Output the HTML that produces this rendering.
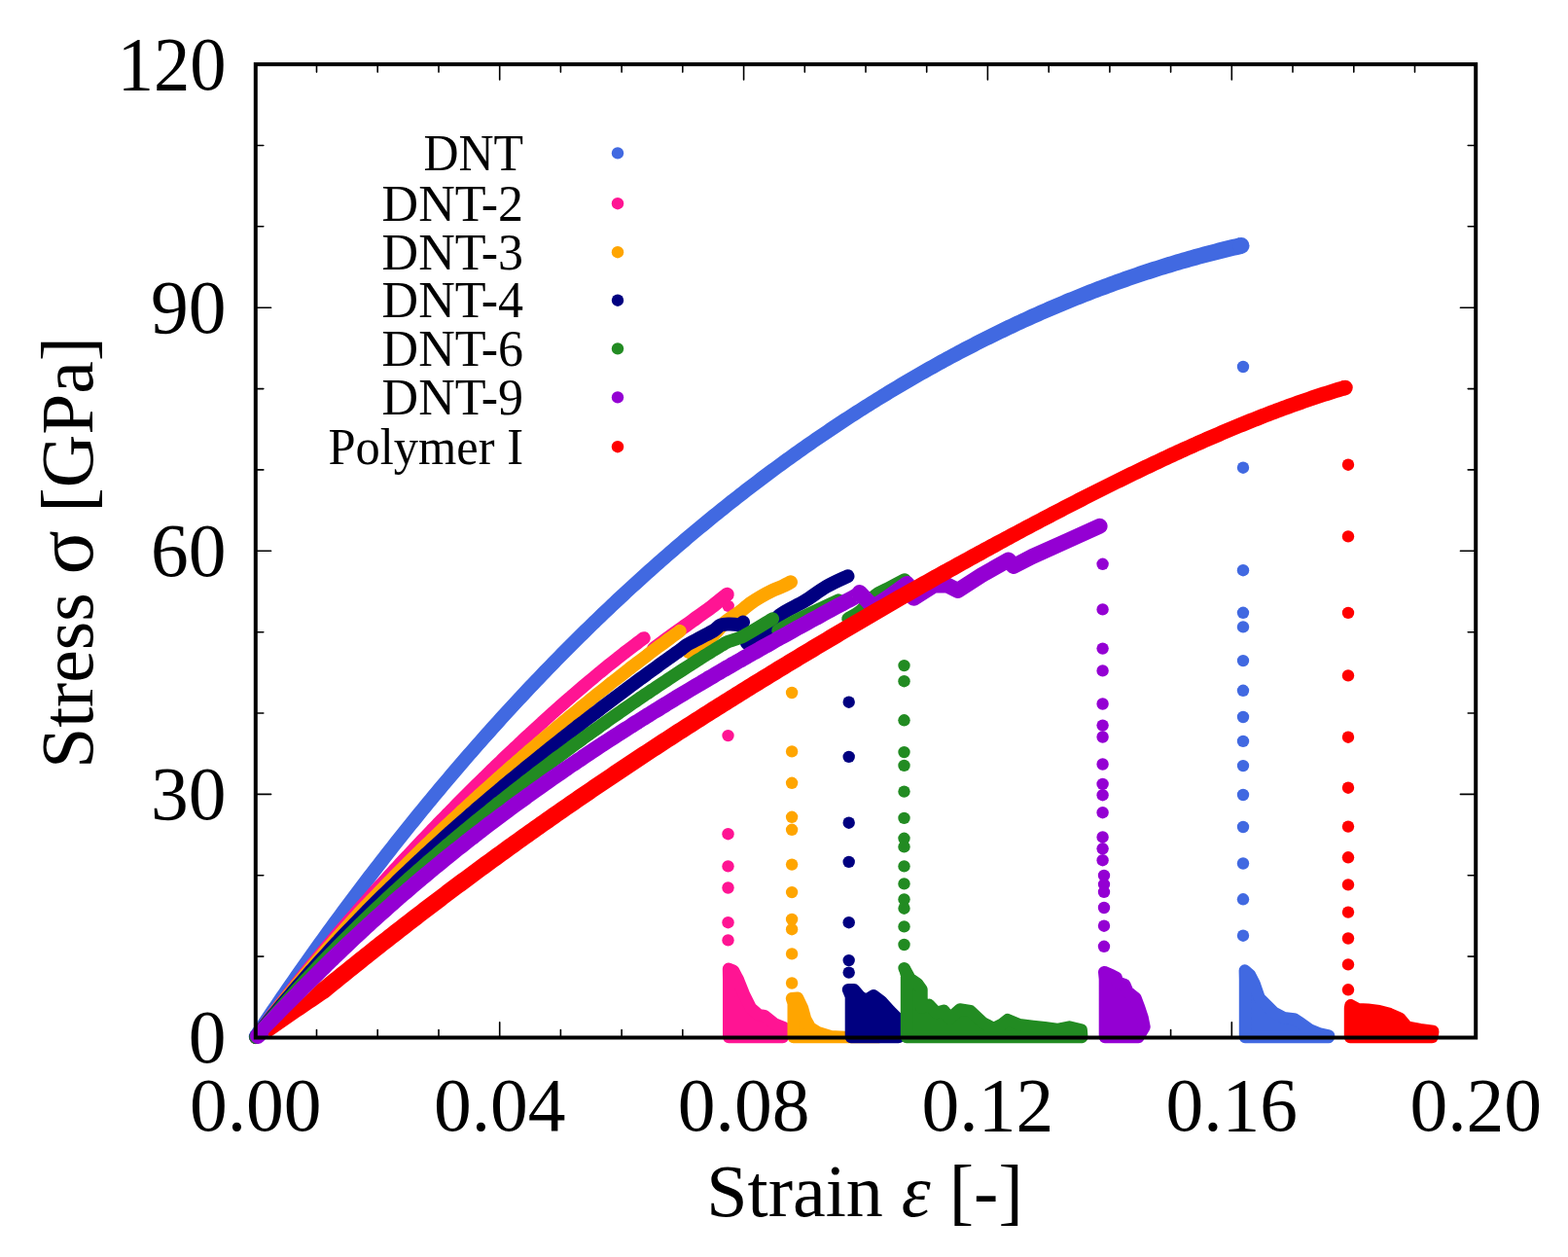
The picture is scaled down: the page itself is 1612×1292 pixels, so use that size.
<!DOCTYPE html>
<html><head><meta charset="utf-8"><style>
html,body{margin:0;padding:0;background:#fff;}
svg{display:block;}
text{font-family:"Liberation Serif","Times New Roman",serif;}
</style></head><body>
<svg width="1612" height="1292" viewBox="0 0 1612 1292">
<rect width="1612" height="1292" fill="#fff"/>
<g font-size="76" fill="#000">
<text x="538" y="174.7" text-anchor="end" font-size="52" textLength="102.6" lengthAdjust="spacingAndGlyphs">DNT</text><circle cx="635" cy="157.4" r="6.2" fill="#4169e1"/><text x="538" y="226.5" text-anchor="end" font-size="52">DNT-2</text><circle cx="635" cy="209.2" r="6.2" fill="#ff1493"/><text x="538" y="276.5" text-anchor="end" font-size="52">DNT-3</text><circle cx="635" cy="259.2" r="6.2" fill="#ffa500"/><text x="538" y="326.0" text-anchor="end" font-size="52">DNT-4</text><circle cx="635" cy="308.7" r="6.2" fill="#000080"/><text x="538" y="375.7" text-anchor="end" font-size="52">DNT-6</text><circle cx="635" cy="358.4" r="6.2" fill="#228b22"/><text x="538" y="425.7" text-anchor="end" font-size="52">DNT-9</text><circle cx="635" cy="408.4" r="6.2" fill="#9400d3"/><text x="538" y="476.5" text-anchor="end" font-size="52" textLength="200.5" lengthAdjust="spacingAndGlyphs">Polymer I</text><circle cx="635" cy="459.2" r="6.2" fill="#ff0000"/>
</g>
<path d="M325.5 1066.5v-8M325.5 66.1v8M388.2 1066.5v-8M388.2 66.1v8M451.0 1066.5v-8M451.0 66.1v8M513.7 1066.5v-15.8M513.7 66.1v15.8M576.4 1066.5v-8M576.4 66.1v8M639.1 1066.5v-8M639.1 66.1v8M701.8 1066.5v-8M701.8 66.1v8M764.6 1066.5v-15.8M764.6 66.1v15.8M827.3 1066.5v-8M827.3 66.1v8M890.0 1066.5v-8M890.0 66.1v8M952.7 1066.5v-8M952.7 66.1v8M1015.4 1066.5v-15.8M1015.4 66.1v15.8M1078.2 1066.5v-8M1078.2 66.1v8M1140.9 1066.5v-8M1140.9 66.1v8M1203.6 1066.5v-8M1203.6 66.1v8M1266.3 1066.5v-15.8M1266.3 66.1v15.8M1329.0 1066.5v-8M1329.0 66.1v8M1391.8 1066.5v-8M1391.8 66.1v8M1454.5 1066.5v-8M1454.5 66.1v8M262.8 983.1h8M1517.2 983.1h-8M262.8 899.8h8M1517.2 899.8h-8M262.8 816.4h15.8M1517.2 816.4h-15.8M262.8 733.0h8M1517.2 733.0h-8M262.8 649.7h8M1517.2 649.7h-8M262.8 566.3h15.8M1517.2 566.3h-15.8M262.8 482.9h8M1517.2 482.9h-8M262.8 399.6h8M1517.2 399.6h-8M262.8 316.2h15.8M1517.2 316.2h-15.8M262.8 232.8h8M1517.2 232.8h-8M262.8 149.5h8M1517.2 149.5h-8" stroke="#000" stroke-width="1.6" stroke-linecap="round" fill="none"/>
<g><path d="M269.04 1069.48 L272.03 1064.97 L275.03 1060.48 L278.02 1056.01 L281.01 1051.55 L284.01 1047.12 L287.00 1042.69 L289.99 1038.29 L292.99 1033.90 L295.98 1029.52 L298.97 1025.16 L301.97 1020.82 L304.96 1016.49 L307.95 1012.18 L310.95 1007.88 L313.94 1003.60 L316.93 999.34 L319.92 995.09 L322.92 990.85 L325.91 986.63 L328.90 982.43 L331.90 978.24 L334.89 974.07 L337.88 969.91 L340.87 965.77 L343.87 961.64 L346.86 957.53 L349.85 953.43 L352.84 949.35 L355.84 945.28 L358.83 941.23 L361.82 937.19 L364.81 933.17 L367.81 929.17 L370.80 925.17 L373.79 921.20 L376.78 917.23 L379.77 913.28 L382.77 909.35 L385.76 905.43 L388.75 901.53 L391.74 897.64 L394.73 893.76 L397.73 889.90 L400.72 886.06 L403.71 882.22 L406.70 878.41 L409.69 874.60 L412.69 870.81 L415.68 867.04 L418.67 863.28 L421.66 859.53 L424.65 855.80 L427.64 852.08 L430.64 848.38 L433.63 844.69 L436.62 841.01 L439.61 837.35 L442.60 833.70 L445.59 830.07 L448.58 826.45 L451.58 822.84 L454.57 819.25 L457.56 815.67 L460.55 812.10 L463.54 808.55 L466.53 805.01 L469.52 801.49 L472.51 797.98 L475.51 794.48 L478.50 791.00 L481.49 787.53 L484.48 784.07 L487.47 780.62 L490.46 777.19 L493.45 773.78 L496.44 770.37 L499.43 766.98 L502.42 763.60 L505.41 760.24 L508.40 756.89 L511.40 753.55 L514.39 750.23 L517.38 746.91 L520.37 743.61 L523.36 740.33 L526.35 737.06 L529.34 733.80 L532.33 730.55 L535.32 727.31 L538.31 724.09 L541.30 720.88 L544.29 717.69 L547.28 714.50 L550.27 711.33 L553.26 708.18 L556.25 705.03 L559.24 701.90 L562.23 698.78 L565.22 695.67 L568.21 692.57 L571.20 689.49 L574.19 686.42 L577.18 683.36 L580.17 680.32 L583.16 677.28 L586.15 674.26 L589.14 671.25 L592.13 668.26 L595.12 665.27 L598.11 662.30 L601.10 659.34 L604.09 656.39 L607.07 653.46 L610.06 650.53 L613.05 647.62 L616.04 644.72 L619.03 641.84 L622.02 638.96 L625.01 636.10 L628.00 633.25 L630.99 630.41 L633.98 627.58 L636.97 624.76 L639.96 621.96 L642.94 619.16 L645.93 616.38 L648.92 613.61 L651.91 610.86 L654.90 608.11 L657.89 605.38 L660.88 602.65 L663.87 599.94 L666.85 597.24 L669.84 594.56 L672.83 591.88 L675.82 589.21 L678.81 586.56 L681.80 583.92 L684.78 581.29 L687.77 578.67 L690.76 576.06 L693.75 573.46 L696.74 570.88 L699.73 568.30 L702.71 565.74 L705.70 563.19 L708.69 560.65 L711.68 558.12 L714.67 555.60 L717.65 553.09 L720.64 550.60 L723.63 548.11 L726.62 545.64 L729.61 543.18 L732.59 540.72 L735.58 538.28 L738.57 535.85 L741.56 533.44 L744.54 531.03 L747.53 528.63 L750.52 526.24 L753.51 523.87 L756.49 521.50 L759.48 519.15 L762.47 516.81 L765.46 514.47 L768.44 512.15 L771.43 509.84 L774.42 507.54 L777.40 505.25 L780.39 502.97 L783.38 500.71 L786.36 498.45 L789.35 496.20 L792.34 493.97 L795.33 491.74 L798.31 489.52 L801.30 487.32 L804.29 485.12 L807.27 482.94 L810.26 480.77 L813.25 478.60 L816.23 476.45 L819.22 474.31 L822.21 472.18 L825.19 470.06 L828.18 467.95 L831.16 465.84 L834.15 463.75 L837.14 461.67 L840.12 459.60 L843.11 457.54 L846.10 455.50 L849.08 453.46 L852.07 451.43 L855.05 449.41 L858.04 447.40 L861.03 445.40 L864.01 443.41 L867.00 441.43 L869.98 439.47 L872.97 437.51 L875.95 435.56 L878.94 433.62 L881.93 431.69 L884.91 429.78 L887.90 427.87 L890.88 425.97 L893.87 424.08 L896.85 422.20 L899.84 420.34 L902.83 418.47 L905.82 416.62 L908.82 414.78 L911.81 412.96 L914.80 411.14 L917.79 409.33 L920.78 407.53 L923.77 405.74 L926.76 403.96 L929.75 402.19 L932.74 400.44 L935.73 398.69 L938.72 396.95 L941.70 395.22 L944.69 393.50 L947.68 391.79 L950.67 390.09 L953.66 388.40 L956.65 386.71 L959.64 385.04 L962.63 383.38 L965.62 381.73 L968.61 380.09 L971.60 378.45 L974.58 376.83 L977.57 375.22 L980.56 373.61 L983.55 372.02 L986.54 370.43 L989.53 368.86 L992.51 367.29 L995.50 365.74 L998.49 364.19 L1001.48 362.65 L1004.46 361.13 L1007.45 359.61 L1010.44 358.10 L1013.43 356.60 L1016.41 355.11 L1019.40 353.63 L1022.39 352.16 L1025.38 350.70 L1028.36 349.25 L1031.35 347.81 L1034.34 346.38 L1037.32 344.95 L1040.31 343.54 L1043.30 342.13 L1046.28 340.74 L1049.27 339.35 L1052.25 337.98 L1055.24 336.61 L1058.23 335.25 L1061.21 333.91 L1064.20 332.57 L1067.18 331.24 L1070.17 329.92 L1073.15 328.61 L1076.14 327.31 L1079.12 326.01 L1082.11 324.73 L1085.09 323.46 L1088.08 322.19 L1091.06 320.94 L1094.05 319.69 L1097.03 318.46 L1100.02 317.23 L1103.00 316.02 L1105.99 314.81 L1108.97 313.61 L1111.95 312.42 L1114.94 311.24 L1117.92 310.07 L1120.91 308.91 L1123.89 307.75 L1126.87 306.61 L1129.86 305.48 L1132.84 304.35 L1135.82 303.24 L1138.81 302.13 L1141.79 301.03 L1144.77 299.95 L1147.76 298.87 L1150.74 297.80 L1153.72 296.74 L1156.70 295.69 L1159.69 294.65 L1162.67 293.61 L1165.65 292.59 L1168.63 291.58 L1171.61 290.57 L1174.60 289.58 L1177.58 288.59 L1180.56 287.62 L1183.54 286.65 L1186.52 285.69 L1189.50 284.74 L1192.48 283.80 L1195.46 282.87 L1198.45 281.95 L1201.43 281.04 L1204.41 280.13 L1207.39 279.24 L1210.37 278.36 L1213.35 277.48 L1216.33 276.62 L1219.31 275.76 L1222.29 274.91 L1225.27 274.07 L1228.25 273.24 L1231.23 272.42 L1234.21 271.61 L1237.19 270.81 L1240.17 270.02 L1243.14 269.24 L1246.12 268.46 L1249.10 267.70 L1252.08 266.95 L1255.06 266.20 L1258.04 265.46 L1261.02 264.74 L1264.00 264.02 L1266.97 263.31 L1269.95 262.61 L1272.93 261.92 L1275.91 261.24 L1277.90 260.79 L1274.10 244.22 L1272.09 244.69 L1269.07 245.40 L1266.05 246.12 L1263.03 246.85 L1260.00 247.59 L1256.98 248.34 L1253.96 249.10 L1250.94 249.86 L1247.92 250.64 L1244.90 251.43 L1241.88 252.22 L1238.86 253.03 L1235.83 253.84 L1232.81 254.67 L1229.79 255.50 L1226.77 256.34 L1223.75 257.19 L1220.73 258.06 L1217.71 258.93 L1214.69 259.81 L1211.67 260.69 L1208.65 261.59 L1205.63 262.50 L1202.61 263.42 L1199.59 264.34 L1196.57 265.28 L1193.55 266.22 L1190.54 267.18 L1187.52 268.14 L1184.50 269.11 L1181.48 270.10 L1178.46 271.09 L1175.44 272.09 L1172.42 273.10 L1169.40 274.12 L1166.39 275.15 L1163.37 276.18 L1160.35 277.23 L1157.33 278.29 L1154.31 279.35 L1151.30 280.43 L1148.28 281.51 L1145.26 282.61 L1142.24 283.71 L1139.23 284.82 L1136.21 285.94 L1133.19 287.07 L1130.18 288.21 L1127.16 289.36 L1124.14 290.52 L1121.13 291.69 L1118.11 292.87 L1115.09 294.05 L1112.08 295.25 L1109.06 296.45 L1106.05 297.67 L1103.03 298.89 L1100.01 300.13 L1097.00 301.37 L1093.98 302.62 L1090.97 303.88 L1087.95 305.15 L1084.94 306.43 L1081.92 307.72 L1078.91 309.02 L1075.89 310.33 L1072.88 311.64 L1069.86 312.97 L1066.85 314.31 L1063.83 315.65 L1060.82 317.01 L1057.80 318.37 L1054.79 319.74 L1051.77 321.13 L1048.76 322.52 L1045.75 323.92 L1042.73 325.33 L1039.72 326.75 L1036.70 328.18 L1033.69 329.62 L1030.68 331.07 L1027.66 332.53 L1024.65 334.00 L1021.64 335.47 L1018.62 336.96 L1015.61 338.45 L1012.60 339.96 L1009.59 341.48 L1006.57 343.00 L1003.56 344.53 L1000.55 346.08 L997.54 347.63 L994.52 349.19 L991.51 350.76 L988.50 352.35 L985.49 353.94 L982.47 355.54 L979.46 357.15 L976.45 358.77 L973.44 360.40 L970.43 362.04 L967.42 363.69 L964.40 365.34 L961.39 367.01 L958.38 368.69 L955.37 370.38 L952.36 372.07 L949.35 373.78 L946.34 375.50 L943.33 377.22 L940.32 378.96 L937.31 380.70 L934.30 382.46 L931.28 384.23 L928.27 386.00 L925.26 387.78 L922.25 389.58 L919.24 391.38 L916.23 393.20 L913.22 395.02 L910.21 396.85 L907.20 398.70 L904.19 400.55 L901.18 402.41 L898.18 404.29 L895.17 406.16 L892.16 408.03 L889.15 409.92 L886.13 411.82 L883.12 413.72 L880.10 415.64 L877.09 417.57 L874.07 419.50 L871.06 421.45 L868.05 423.41 L865.03 425.37 L862.02 427.35 L859.00 429.34 L855.99 431.33 L852.97 433.34 L849.96 435.36 L846.95 437.39 L843.93 439.42 L840.92 441.47 L837.90 443.53 L834.89 445.60 L831.88 447.68 L828.86 449.77 L825.85 451.87 L822.84 453.98 L819.82 456.10 L816.81 458.23 L813.79 460.37 L810.78 462.52 L807.77 464.68 L804.75 466.85 L801.74 469.03 L798.73 471.23 L795.71 473.43 L792.70 475.64 L789.69 477.87 L786.67 480.10 L783.66 482.35 L780.65 484.60 L777.64 486.87 L774.62 489.15 L771.61 491.44 L768.60 493.73 L765.58 496.04 L762.57 498.36 L759.56 500.69 L756.54 503.04 L753.53 505.39 L750.52 507.75 L747.51 510.12 L744.49 512.51 L741.48 514.90 L738.47 517.31 L735.46 519.73 L732.44 522.16 L729.43 524.59 L726.42 527.04 L723.41 529.51 L720.39 531.98 L717.38 534.46 L714.37 536.95 L711.36 539.46 L708.35 541.98 L705.33 544.50 L702.32 547.04 L699.31 549.59 L696.30 552.15 L693.29 554.72 L690.27 557.31 L687.26 559.90 L684.25 562.51 L681.24 565.13 L678.23 567.75 L675.22 570.39 L672.20 573.04 L669.19 575.71 L666.18 578.38 L663.17 581.07 L660.16 583.76 L657.15 586.47 L654.13 589.19 L651.12 591.92 L648.11 594.67 L645.10 597.42 L642.09 600.19 L639.08 602.97 L636.07 605.76 L633.06 608.56 L630.04 611.37 L627.03 614.20 L624.02 617.03 L621.01 619.88 L618.00 622.74 L614.99 625.62 L611.98 628.50 L608.97 631.40 L605.96 634.30 L602.95 637.23 L599.94 640.16 L596.93 643.10 L593.91 646.06 L590.90 649.03 L587.89 652.01 L584.88 655.00 L581.87 658.01 L578.86 661.02 L575.85 664.05 L572.84 667.09 L569.83 670.15 L566.82 673.22 L563.81 676.29 L560.80 679.39 L557.79 682.49 L554.78 685.61 L551.77 688.73 L548.76 691.88 L545.75 695.03 L542.74 698.20 L539.73 701.37 L536.72 704.57 L533.71 707.77 L530.70 710.99 L527.69 714.22 L524.68 717.46 L521.67 720.72 L518.66 723.98 L515.65 727.26 L512.64 730.56 L509.63 733.87 L506.62 737.19 L503.61 740.52 L500.60 743.86 L497.60 747.22 L494.59 750.60 L491.58 753.98 L488.57 757.38 L485.56 760.79 L482.55 764.22 L479.54 767.65 L476.53 771.11 L473.52 774.57 L470.51 778.05 L467.50 781.54 L464.49 785.05 L461.49 788.56 L458.48 792.10 L455.47 795.64 L452.46 799.20 L449.45 802.77 L446.44 806.36 L443.43 809.96 L440.42 813.57 L437.42 817.20 L434.41 820.84 L431.40 824.50 L428.39 828.17 L425.38 831.85 L422.37 835.55 L419.36 839.26 L416.36 842.98 L413.35 846.72 L410.34 850.47 L407.33 854.24 L404.32 858.02 L401.31 861.82 L398.31 865.63 L395.30 869.45 L392.29 873.29 L389.28 877.14 L386.27 881.01 L383.27 884.89 L380.26 888.79 L377.25 892.70 L374.24 896.62 L371.23 900.56 L368.23 904.52 L365.22 908.48 L362.21 912.47 L359.20 916.47 L356.19 920.48 L353.19 924.51 L350.18 928.55 L347.17 932.61 L344.16 936.68 L341.16 940.77 L338.15 944.87 L335.14 948.99 L332.13 953.12 L329.13 957.27 L326.12 961.43 L323.11 965.61 L320.10 969.80 L317.10 974.01 L314.09 978.23 L311.08 982.47 L308.08 986.73 L305.07 991.00 L302.06 995.28 L299.05 999.58 L296.05 1003.90 L293.04 1008.23 L290.03 1012.58 L287.03 1016.94 L284.02 1021.32 L281.01 1025.72 L278.01 1030.13 L275.00 1034.56 L271.99 1039.00 L268.99 1043.46 L265.98 1047.93 L262.97 1052.42 L259.97 1056.93 L256.96 1061.45Z" fill="#4169e1"/><circle cx="263.0" cy="1065.5" r="7.25" fill="#4169e1"/><circle cx="1276.0" cy="252.5" r="8.50" fill="#4169e1"/>
<circle cx="1278.0" cy="377.0" r="6.2" fill="#4169e1"/><circle cx="1278.0" cy="480.7" r="6.2" fill="#4169e1"/><circle cx="1278.0" cy="586.2" r="6.2" fill="#4169e1"/><circle cx="1278.0" cy="629.8" r="6.2" fill="#4169e1"/><circle cx="1278.0" cy="644.4" r="6.2" fill="#4169e1"/><circle cx="1278.0" cy="679.1" r="6.2" fill="#4169e1"/><circle cx="1278.0" cy="709.8" r="6.2" fill="#4169e1"/><circle cx="1278.0" cy="737.0" r="6.2" fill="#4169e1"/><circle cx="1278.0" cy="761.9" r="6.2" fill="#4169e1"/><circle cx="1278.0" cy="787.1" r="6.2" fill="#4169e1"/><circle cx="1278.0" cy="817.0" r="6.2" fill="#4169e1"/><circle cx="1278.0" cy="850.0" r="6.2" fill="#4169e1"/><circle cx="1278.0" cy="887.5" r="6.2" fill="#4169e1"/><circle cx="1278.0" cy="924.3" r="6.2" fill="#4169e1"/><circle cx="1278.0" cy="961.7" r="6.2" fill="#4169e1"/>
<polygon points="1280.0,1006.2 1279.8,997.5 1285.0,1002.2 1289.5,1010.9 1294.7,1025.8 1302.0,1033.2 1309.6,1040.6 1320.0,1046.2 1330.4,1047.3 1338.0,1052.2 1346.8,1058.5 1356.0,1062.2 1366.1,1064.5 1365.9,1066.0 1365.9,1066.0 1280.0,1066.0" fill="#4169e1" stroke="#4169e1" stroke-width="12.4" stroke-linejoin="round"/>
<path d="M263.0 1066.0 C264.0 1064.7 267.0 1060.6 269.0 1057.9 C271.0 1055.3 273.0 1052.6 275.0 1049.9 C277.0 1047.3 279.0 1044.7 281.0 1042.0 C283.0 1039.4 285.0 1036.8 287.0 1034.2 C289.0 1031.6 291.0 1029.0 293.0 1026.5 C295.0 1023.9 297.0 1021.4 299.0 1018.8 C301.0 1016.3 303.0 1013.8 305.0 1011.2 C307.0 1008.7 309.0 1006.2 311.0 1003.7 C313.0 1001.3 315.0 998.8 317.0 996.3 C319.0 993.9 321.0 991.4 323.0 989.0 C325.0 986.5 327.0 984.1 329.0 981.7 C331.0 979.3 333.0 976.9 335.0 974.5 C337.0 972.1 339.0 969.7 341.0 967.4 C343.0 965.0 345.0 962.6 347.0 960.3 C349.0 957.9 351.0 955.6 353.0 953.3 C355.0 950.9 357.0 948.6 359.0 946.3 C361.0 944.0 363.0 941.7 365.0 939.4 C367.0 937.1 369.0 934.8 371.0 932.6 C373.0 930.3 375.0 928.0 377.0 925.8 C379.0 923.5 381.0 921.3 383.0 919.0 C385.0 916.8 387.0 914.6 389.0 912.3 C391.0 910.1 393.0 907.9 395.0 905.7 C397.0 903.5 399.0 901.3 401.0 899.1 C403.0 896.9 405.0 894.8 407.0 892.6 C409.0 890.4 411.0 888.3 413.0 886.1 C415.0 883.9 417.0 881.8 419.0 879.7 C421.0 877.5 423.0 875.4 425.0 873.3 C427.0 871.1 429.0 869.0 431.0 866.9 C433.0 864.8 435.0 862.7 437.0 860.6 C439.0 858.5 441.0 856.4 443.0 854.3 C445.0 852.2 447.0 850.2 449.0 848.1 C451.0 846.0 453.0 844.0 455.0 841.9 C457.0 839.9 459.0 837.8 461.0 835.8 C463.0 833.7 465.0 831.7 467.0 829.7 C469.0 827.6 471.0 825.6 473.0 823.6 C475.0 821.6 477.0 819.6 479.0 817.6 C481.0 815.6 483.0 813.6 485.0 811.6 C487.0 809.6 489.0 807.6 491.0 805.6 C493.0 803.7 495.0 801.7 497.0 799.7 C499.0 797.8 501.0 795.8 503.0 793.9 C505.0 791.9 507.0 790.0 509.0 788.0 C511.0 786.1 513.0 784.2 515.0 782.3 C517.0 780.3 519.0 778.4 521.0 776.5 C523.0 774.6 525.0 772.7 527.0 770.8 C529.0 768.9 531.0 767.0 533.0 765.2 C535.0 763.3 537.0 761.4 539.0 759.5 C541.0 757.7 543.0 755.8 545.0 754.0 C547.0 752.1 549.0 750.3 551.0 748.4 C553.0 746.6 555.0 744.8 557.0 743.0 C559.0 741.1 561.0 739.3 563.0 737.5 C565.0 735.7 567.0 733.9 569.0 732.1 C571.0 730.4 573.0 728.6 575.0 726.8 C577.0 725.0 579.0 723.3 581.0 721.5 C583.0 719.8 585.0 718.0 587.0 716.3 C589.0 714.5 591.0 712.8 593.0 711.1 C595.0 709.4 597.0 707.7 599.0 706.0 C601.0 704.3 603.0 702.6 605.0 700.9 C607.0 699.2 609.0 697.5 611.0 695.9 C613.0 694.2 615.0 692.6 617.0 690.9 C619.0 689.3 621.0 687.6 623.0 686.0 C625.0 684.4 627.0 682.8 629.0 681.2 C631.0 679.6 633.0 678.0 635.0 676.4 C637.0 674.9 639.0 673.3 641.0 671.7 C643.0 670.2 645.0 668.6 647.0 667.1 C649.0 665.6 651.0 664.1 653.0 662.6 C655.0 661.1 657.5 659.2 659.0 658.1 C660.5 657.0 661.5 656.2 662.0 655.9" stroke="#ff1493" stroke-width="13.5" fill="none" stroke-linecap="round" stroke-linejoin="round"/>
<path d="M672.0 667.0 C674.7 665.0 682.5 659.0 688.0 655.0 C693.5 651.0 700.3 646.3 705.0 643.0 C709.7 639.7 711.7 638.1 716.0 635.0 C720.3 631.9 727.0 627.3 731.0 624.3 C735.0 621.3 737.2 619.2 740.0 617.0 C742.8 614.8 746.2 612.0 747.5 611.0" stroke="#ff1493" stroke-width="14.5" fill="none" stroke-linecap="round" stroke-linejoin="round"/>
<circle cx="748.7" cy="622.9" r="6.2" fill="#ff1493"/>
<circle cx="748.5" cy="756.1" r="6.2" fill="#ff1493"/><circle cx="748.5" cy="857.2" r="6.2" fill="#ff1493"/><circle cx="748.5" cy="890.4" r="6.2" fill="#ff1493"/><circle cx="748.5" cy="912.5" r="6.2" fill="#ff1493"/><circle cx="748.5" cy="948.2" r="6.2" fill="#ff1493"/><circle cx="748.5" cy="966.4" r="6.2" fill="#ff1493"/>
<polygon points="749.2,1006.2 749.0,995.7 754.0,997.7 759.0,1007.2 765.0,1022.2 772.0,1036.2 780.0,1043.2 786.0,1044.2 796.0,1052.2 806.0,1056.2 804.8,1060.2 804.8,1066.0 749.2,1066.0" fill="#ff1493" stroke="#ff1493" stroke-width="12.4" stroke-linejoin="round"/>
<path d="M263.0 1066.4 C264.0 1065.1 267.0 1061.0 269.0 1058.4 C271.0 1055.7 273.0 1053.1 275.0 1050.5 C277.0 1047.9 279.0 1045.3 281.0 1042.7 C283.0 1040.1 285.0 1037.5 287.0 1035.0 C289.0 1032.4 291.0 1029.9 293.0 1027.4 C295.0 1024.9 297.0 1022.4 299.0 1019.9 C301.0 1017.4 303.0 1015.0 305.0 1012.5 C307.0 1010.1 309.0 1007.6 311.0 1005.2 C313.0 1002.8 315.0 1000.4 317.0 998.0 C319.0 995.6 321.0 993.3 323.0 990.9 C325.0 988.6 327.0 986.2 329.0 983.9 C331.0 981.6 333.0 979.2 335.0 976.9 C337.0 974.6 339.0 972.4 341.0 970.1 C343.0 967.8 345.0 965.5 347.0 963.3 C349.0 961.1 351.0 958.8 353.0 956.6 C355.0 954.4 357.0 952.2 359.0 950.0 C361.0 947.8 363.0 945.6 365.0 943.4 C367.0 941.2 369.0 939.1 371.0 936.9 C373.0 934.8 375.0 932.6 377.0 930.5 C379.0 928.4 381.0 926.2 383.0 924.1 C385.0 922.0 387.0 919.9 389.0 917.8 C391.0 915.8 393.0 913.7 395.0 911.6 C397.0 909.5 399.0 907.5 401.0 905.4 C403.0 903.4 405.0 901.3 407.0 899.3 C409.0 897.3 411.0 895.3 413.0 893.3 C415.0 891.2 417.0 889.2 419.0 887.2 C421.0 885.3 423.0 883.3 425.0 881.3 C427.0 879.3 429.0 877.3 431.0 875.4 C433.0 873.4 435.0 871.5 437.0 869.5 C439.0 867.6 441.0 865.7 443.0 863.7 C445.0 861.8 447.0 859.9 449.0 858.0 C451.0 856.0 453.0 854.1 455.0 852.2 C457.0 850.3 459.0 848.4 461.0 846.6 C463.0 844.7 465.0 842.8 467.0 840.9 C469.0 839.1 471.0 837.2 473.0 835.3 C475.0 833.5 477.0 831.6 479.0 829.8 C481.0 827.9 483.0 826.1 485.0 824.3 C487.0 822.4 489.0 820.6 491.0 818.8 C493.0 817.0 495.0 815.1 497.0 813.3 C499.0 811.5 501.0 809.7 503.0 807.9 C505.0 806.1 507.0 804.3 509.0 802.6 C511.0 800.8 513.0 799.0 515.0 797.2 C517.0 795.4 519.0 793.7 521.0 791.9 C523.0 790.2 525.0 788.4 527.0 786.6 C529.0 784.9 531.0 783.1 533.0 781.4 C535.0 779.7 537.0 777.9 539.0 776.2 C541.0 774.5 543.0 772.7 545.0 771.0 C547.0 769.3 549.0 767.6 551.0 765.9 C553.0 764.1 555.0 762.4 557.0 760.7 C559.0 759.0 561.0 757.3 563.0 755.7 C565.0 754.0 567.0 752.3 569.0 750.6 C571.0 748.9 573.0 747.2 575.0 745.6 C577.0 743.9 579.0 742.2 581.0 740.6 C583.0 738.9 585.0 737.2 587.0 735.6 C589.0 733.9 591.0 732.3 593.0 730.7 C595.0 729.0 597.0 727.4 599.0 725.7 C601.0 724.1 603.0 722.5 605.0 720.9 C607.0 719.2 609.0 717.6 611.0 716.0 C613.0 714.4 615.0 712.8 617.0 711.2 C619.0 709.6 621.0 708.0 623.0 706.4 C625.0 704.8 627.0 703.2 629.0 701.6 C631.0 700.0 633.0 698.5 635.0 696.9 C637.0 695.3 639.0 693.8 641.0 692.2 C643.0 690.6 645.0 689.1 647.0 687.5 C649.0 686.0 651.0 684.4 653.0 682.9 C655.0 681.4 657.0 679.8 659.0 678.3 C661.0 676.8 663.0 675.3 665.0 673.8 C667.0 672.2 669.0 670.7 671.0 669.2 C673.0 667.7 675.0 666.2 677.0 664.7 C679.0 663.2 681.0 661.8 683.0 660.3 C685.0 658.8 687.0 657.3 689.0 655.9 C691.0 654.4 693.3 652.7 695.0 651.5 C696.7 650.3 698.3 649.1 699.0 648.6" stroke="#ffa500" stroke-width="13.5" fill="none" stroke-linecap="round" stroke-linejoin="round"/>
<path d="M708.0 670.0 C710.0 668.7 715.7 665.0 720.0 662.0 C724.3 659.0 729.8 655.7 734.0 652.0 C738.2 648.3 740.7 643.8 745.0 640.0 C749.3 636.2 755.7 632.5 760.0 629.3 C764.3 626.0 767.3 623.2 771.0 620.5 C774.7 617.8 778.5 615.5 782.3 613.3 C786.1 611.0 790.3 608.8 794.0 607.0 C797.7 605.2 801.5 604.0 804.7 602.5 C807.9 601.0 811.6 599.0 813.0 598.3" stroke="#ffa500" stroke-width="14" fill="none" stroke-linecap="round" stroke-linejoin="round"/>
<circle cx="814.1" cy="712.0" r="6.2" fill="#ffa500"/><circle cx="814.1" cy="772.4" r="6.2" fill="#ffa500"/><circle cx="814.1" cy="804.8" r="6.2" fill="#ffa500"/><circle cx="814.1" cy="839.8" r="6.2" fill="#ffa500"/><circle cx="814.1" cy="852.8" r="6.2" fill="#ffa500"/><circle cx="814.1" cy="888.6" r="6.2" fill="#ffa500"/><circle cx="814.1" cy="917.1" r="6.2" fill="#ffa500"/><circle cx="814.1" cy="944.9" r="6.2" fill="#ffa500"/><circle cx="814.1" cy="955.2" r="6.2" fill="#ffa500"/><circle cx="814.1" cy="980.4" r="6.2" fill="#ffa500"/><circle cx="814.1" cy="1010.5" r="6.2" fill="#ffa500"/>
<polygon points="815.7,1031.2 814.0,1026.2 820.0,1025.7 825.0,1036.2 828.0,1047.2 833.0,1056.2 841.0,1061.2 854.0,1065.2 868.0,1066.0 890.0,1066.0 903.8,1066.0 903.8,1066.0 815.7,1066.0" fill="#ffa500" stroke="#ffa500" stroke-width="12.4" stroke-linejoin="round"/>
<path d="M263.0 1066.0 C264.0 1064.7 267.0 1060.9 269.0 1058.4 C271.0 1055.9 273.0 1053.4 275.0 1050.9 C277.0 1048.4 279.0 1046.0 281.0 1043.5 C283.0 1041.1 285.0 1038.6 287.0 1036.2 C289.0 1033.8 291.0 1031.4 293.0 1029.0 C295.0 1026.6 297.0 1024.3 299.0 1021.9 C301.0 1019.6 303.0 1017.2 305.0 1014.9 C307.0 1012.6 309.0 1010.3 311.0 1008.0 C313.0 1005.7 315.0 1003.4 317.0 1001.1 C319.0 998.9 321.0 996.6 323.0 994.4 C325.0 992.1 327.0 989.9 329.0 987.7 C331.0 985.5 333.0 983.3 335.0 981.1 C337.0 978.9 339.0 976.7 341.0 974.5 C343.0 972.4 345.0 970.2 347.0 968.1 C349.0 965.9 351.0 963.8 353.0 961.7 C355.0 959.6 357.0 957.5 359.0 955.4 C361.0 953.3 363.0 951.2 365.0 949.1 C367.0 947.1 369.0 945.0 371.0 943.0 C373.0 940.9 375.0 938.9 377.0 936.8 C379.0 934.8 381.0 932.8 383.0 930.8 C385.0 928.8 387.0 926.8 389.0 924.8 C391.0 922.8 393.0 920.8 395.0 918.9 C397.0 916.9 399.0 914.9 401.0 913.0 C403.0 911.0 405.0 909.1 407.0 907.2 C409.0 905.2 411.0 903.3 413.0 901.4 C415.0 899.5 417.0 897.6 419.0 895.7 C421.0 893.8 423.0 891.9 425.0 890.0 C427.0 888.1 429.0 886.3 431.0 884.4 C433.0 882.5 435.0 880.7 437.0 878.8 C439.0 877.0 441.0 875.2 443.0 873.3 C445.0 871.5 447.0 869.7 449.0 867.9 C451.0 866.0 453.0 864.2 455.0 862.4 C457.0 860.6 459.0 858.8 461.0 857.0 C463.0 855.2 465.0 853.5 467.0 851.7 C469.0 849.9 471.0 848.1 473.0 846.4 C475.0 844.6 477.0 842.9 479.0 841.1 C481.0 839.4 483.0 837.6 485.0 835.9 C487.0 834.2 489.0 832.4 491.0 830.7 C493.0 829.0 495.0 827.3 497.0 825.5 C499.0 823.8 501.0 822.1 503.0 820.4 C505.0 818.7 507.0 817.0 509.0 815.3 C511.0 813.6 513.0 812.0 515.0 810.3 C517.0 808.6 519.0 806.9 521.0 805.3 C523.0 803.6 525.0 801.9 527.0 800.3 C529.0 798.6 531.0 797.0 533.0 795.3 C535.0 793.7 537.0 792.0 539.0 790.4 C541.0 788.7 543.0 787.1 545.0 785.5 C547.0 783.8 549.0 782.2 551.0 780.6 C553.0 779.0 555.0 777.4 557.0 775.8 C559.0 774.1 561.0 772.5 563.0 770.9 C565.0 769.3 567.0 767.7 569.0 766.1 C571.0 764.6 573.0 763.0 575.0 761.4 C577.0 759.8 579.0 758.2 581.0 756.6 C583.0 755.1 585.0 753.5 587.0 751.9 C589.0 750.4 591.0 748.8 593.0 747.2 C595.0 745.7 597.0 744.1 599.0 742.6 C601.0 741.0 603.0 739.5 605.0 737.9 C607.0 736.4 609.0 734.9 611.0 733.3 C613.0 731.8 615.0 730.3 617.0 728.7 C619.0 727.2 621.0 725.7 623.0 724.2 C625.0 722.6 627.0 721.1 629.0 719.6 C631.0 718.1 633.0 716.6 635.0 715.1 C637.0 713.6 639.0 712.1 641.0 710.6 C643.0 709.1 645.0 707.6 647.0 706.1 C649.0 704.6 651.0 703.2 653.0 701.7 C655.0 700.2 657.0 698.7 659.0 697.2 C661.0 695.8 663.0 694.3 665.0 692.8 C667.0 691.4 669.0 689.9 671.0 688.5 C673.0 687.0 675.0 685.6 677.0 684.1 C679.0 682.7 681.0 681.2 683.0 679.8 C685.0 678.4 687.0 676.9 689.0 675.5 C691.0 674.1 693.2 672.5 695.0 671.2 C696.8 669.9 698.2 669.0 700.0 667.7 C701.8 666.3 702.7 665.0 706.0 663.0 C709.3 661.0 715.3 658.0 720.0 655.5 C724.7 653.0 730.5 650.2 734.0 648.0 C737.5 645.8 738.3 643.6 741.0 642.5 C743.7 641.4 746.8 641.6 750.0 641.5 C753.2 641.4 757.7 642.3 760.0 642.0 C762.3 641.7 763.3 639.9 764.0 639.5" stroke="#000080" stroke-width="14" fill="none" stroke-linecap="round" stroke-linejoin="round"/>
<path d="M768.0 661.0 C771.3 659.2 782.4 654.8 788.0 650.0 C793.6 645.2 795.2 637.6 801.7 632.3 C808.2 626.9 819.0 622.8 827.0 617.9 C835.0 613.0 842.0 607.3 849.4 603.0 C856.8 598.7 867.8 594.0 871.5 592.2" stroke="#000080" stroke-width="14" fill="none" stroke-linecap="round" stroke-linejoin="round"/>
<circle cx="872.7" cy="721.7" r="6.2" fill="#000080"/><circle cx="872.7" cy="777.9" r="6.2" fill="#000080"/><circle cx="872.7" cy="845.7" r="6.2" fill="#000080"/><circle cx="872.7" cy="885.9" r="6.2" fill="#000080"/><circle cx="872.7" cy="948.2" r="6.2" fill="#000080"/><circle cx="872.7" cy="987.1" r="6.2" fill="#000080"/><circle cx="872.7" cy="999.6" r="6.2" fill="#000080"/>
<polygon points="874.9,1024.2 872.0,1017.2 878.0,1017.2 884.0,1024.2 890.0,1028.2 898.0,1023.2 906.0,1029.2 915.0,1039.2 923.0,1047.2 927.0,1054.2 923.8,1064.2 923.8,1066.0 874.9,1066.0" fill="#000080" stroke="#000080" stroke-width="12.4" stroke-linejoin="round"/>
<path d="M263.0 1066.0 C264.0 1064.8 267.0 1061.2 269.0 1058.8 C271.0 1056.4 273.0 1054.0 275.0 1051.6 C277.0 1049.3 279.0 1046.9 281.0 1044.6 C283.0 1042.3 285.0 1039.9 287.0 1037.6 C289.0 1035.3 291.0 1033.0 293.0 1030.8 C295.0 1028.5 297.0 1026.2 299.0 1024.0 C301.0 1021.8 303.0 1019.5 305.0 1017.3 C307.0 1015.1 309.0 1012.9 311.0 1010.7 C313.0 1008.5 315.0 1006.4 317.0 1004.2 C319.0 1002.1 321.0 999.9 323.0 997.8 C325.0 995.6 327.0 993.5 329.0 991.4 C331.0 989.3 333.0 987.2 335.0 985.1 C337.0 983.1 339.0 981.0 341.0 978.9 C343.0 976.9 345.0 974.8 347.0 972.8 C349.0 970.8 351.0 968.8 353.0 966.7 C355.0 964.7 357.0 962.7 359.0 960.8 C361.0 958.8 363.0 956.8 365.0 954.8 C367.0 952.9 369.0 950.9 371.0 949.0 C373.0 947.0 375.0 945.1 377.0 943.2 C379.0 941.2 381.0 939.3 383.0 937.4 C385.0 935.5 387.0 933.6 389.0 931.7 C391.0 929.9 393.0 928.0 395.0 926.1 C397.0 924.2 399.0 922.4 401.0 920.5 C403.0 918.7 405.0 916.9 407.0 915.0 C409.0 913.2 411.0 911.4 413.0 909.6 C415.0 907.7 417.0 905.9 419.0 904.1 C421.0 902.3 423.0 900.6 425.0 898.8 C427.0 897.0 429.0 895.2 431.0 893.5 C433.0 891.7 435.0 889.9 437.0 888.2 C439.0 886.4 441.0 884.7 443.0 883.0 C445.0 881.2 447.0 879.5 449.0 877.8 C451.0 876.0 453.0 874.3 455.0 872.6 C457.0 870.9 459.0 869.2 461.0 867.5 C463.0 865.8 465.0 864.1 467.0 862.5 C469.0 860.8 471.0 859.1 473.0 857.4 C475.0 855.8 477.0 854.1 479.0 852.4 C481.0 850.8 483.0 849.1 485.0 847.5 C487.0 845.9 489.0 844.2 491.0 842.6 C493.0 840.9 495.0 839.3 497.0 837.7 C499.0 836.1 501.0 834.5 503.0 832.9 C505.0 831.2 507.0 829.6 509.0 828.0 C511.0 826.4 513.0 824.8 515.0 823.3 C517.0 821.7 519.0 820.1 521.0 818.5 C523.0 816.9 525.0 815.3 527.0 813.8 C529.0 812.2 531.0 810.6 533.0 809.1 C535.0 807.5 537.0 806.0 539.0 804.4 C541.0 802.9 543.0 801.3 545.0 799.8 C547.0 798.3 549.0 796.7 551.0 795.2 C553.0 793.7 555.0 792.1 557.0 790.6 C559.0 789.1 561.0 787.6 563.0 786.1 C565.0 784.6 567.0 783.0 569.0 781.5 C571.0 780.0 573.0 778.5 575.0 777.1 C577.0 775.6 579.0 774.1 581.0 772.6 C583.0 771.1 585.0 769.6 587.0 768.1 C589.0 766.7 591.0 765.2 593.0 763.7 C595.0 762.3 597.0 760.8 599.0 759.3 C601.0 757.9 603.0 756.4 605.0 755.0 C607.0 753.5 609.0 752.1 611.0 750.6 C613.0 749.2 615.0 747.8 617.0 746.3 C619.0 744.9 621.0 743.5 623.0 742.1 C625.0 740.6 627.0 739.2 629.0 737.8 C631.0 736.4 633.0 735.0 635.0 733.6 C637.0 732.2 639.0 730.8 641.0 729.4 C643.0 728.0 645.0 726.6 647.0 725.2 C649.0 723.8 651.0 722.4 653.0 721.1 C655.0 719.7 657.0 718.3 659.0 716.9 C661.0 715.6 663.0 714.2 665.0 712.9 C667.0 711.5 669.0 710.2 671.0 708.8 C673.0 707.5 675.0 706.1 677.0 704.8 C679.0 703.4 681.0 702.1 683.0 700.8 C685.0 699.5 687.0 698.1 689.0 696.8 C691.0 695.5 693.0 694.2 695.0 692.9 C697.0 691.6 699.0 690.3 701.0 689.0 C703.0 687.7 705.0 686.4 707.0 685.1 C709.0 683.8 711.0 682.6 713.0 681.3 C715.0 680.0 717.0 678.7 719.0 677.5 C721.0 676.2 723.0 675.0 725.0 673.7 C727.0 672.5 729.0 671.2 731.0 670.0 C733.0 668.8 735.0 667.5 737.0 666.3 C739.0 665.1 741.2 663.7 743.0 662.7 C744.8 661.6 743.8 661.5 747.5 660.0 C751.2 658.4 757.2 657.4 765.0 653.4 C772.8 649.4 789.4 638.9 794.3 636.0" stroke="#228b22" stroke-width="13.5" fill="none" stroke-linecap="round" stroke-linejoin="round"/>
<path d="M800.0 648.0 C803.3 646.2 812.5 640.8 820.0 637.0 C827.5 633.2 838.0 628.3 845.0 625.0 C852.0 621.7 859.2 618.3 862.0 617.0" stroke="#228b22" stroke-width="13.5" fill="none" stroke-linecap="round" stroke-linejoin="round"/>
<path d="M872.0 636.0 C874.2 634.7 880.3 632.0 885.0 628.0 C889.7 624.0 895.0 616.0 900.0 612.0 C905.0 608.0 910.0 606.7 915.0 604.0 C920.0 601.3 927.5 597.3 930.0 596.0" stroke="#228b22" stroke-width="13.5" fill="none" stroke-linecap="round" stroke-linejoin="round"/>
<circle cx="929.5" cy="684.1" r="6.2" fill="#228b22"/><circle cx="929.5" cy="700.2" r="6.2" fill="#228b22"/><circle cx="929.5" cy="740.3" r="6.2" fill="#228b22"/><circle cx="929.5" cy="773.1" r="6.2" fill="#228b22"/><circle cx="929.5" cy="786.9" r="6.2" fill="#228b22"/><circle cx="929.5" cy="813.6" r="6.2" fill="#228b22"/><circle cx="929.5" cy="840.9" r="6.2" fill="#228b22"/><circle cx="929.5" cy="861.8" r="6.2" fill="#228b22"/><circle cx="929.5" cy="870.4" r="6.2" fill="#228b22"/><circle cx="929.5" cy="890.4" r="6.2" fill="#228b22"/><circle cx="929.5" cy="908.4" r="6.2" fill="#228b22"/><circle cx="929.5" cy="924.4" r="6.2" fill="#228b22"/><circle cx="929.5" cy="933.7" r="6.2" fill="#228b22"/><circle cx="929.5" cy="952.4" r="6.2" fill="#228b22"/><circle cx="929.5" cy="971.0" r="6.2" fill="#228b22"/><circle cx="929.5" cy="995.1" r="6.2" fill="#228b22"/>
<polygon points="932.0,1002.2 930.4,996.6 935.6,1006.0 943.2,1011.1 947.5,1017.1 947.5,1035.8 955.1,1032.8 962.8,1040.9 970.5,1038.8 976.4,1046.9 986.7,1037.5 997.7,1039.2 1010.5,1051.2 1021.6,1057.1 1030.0,1052.9 1036.0,1048.1 1048.0,1053.2 1062.0,1054.9 1074.0,1056.2 1086.8,1058.0 1099.3,1055.5 1111.7,1058.6 1112.3,1066.0 1112.3,1066.0 932.0,1066.0" fill="#228b22" stroke="#228b22" stroke-width="12.4" stroke-linejoin="round"/>
<path d="M265.0 1064.9 C266.0 1063.8 269.0 1060.5 271.0 1058.4 C273.0 1056.2 275.0 1054.0 277.0 1051.8 C279.0 1049.7 281.0 1047.5 283.0 1045.4 C285.0 1043.3 287.0 1041.1 289.0 1039.0 C291.0 1036.9 293.0 1034.8 295.0 1032.7 C297.0 1030.6 299.0 1028.5 301.0 1026.5 C303.0 1024.4 305.0 1022.3 307.0 1020.3 C309.0 1018.2 311.0 1016.2 313.0 1014.1 C315.0 1012.1 317.0 1010.1 319.0 1008.1 C321.0 1006.1 323.0 1004.1 325.0 1002.1 C327.0 1000.1 329.0 998.1 331.0 996.1 C333.0 994.1 335.0 992.2 337.0 990.2 C339.0 988.3 341.0 986.3 343.0 984.4 C345.0 982.4 347.0 980.5 349.0 978.6 C351.0 976.7 353.0 974.8 355.0 972.9 C357.0 971.0 359.0 969.1 361.0 967.2 C363.0 965.3 365.0 963.4 367.0 961.6 C369.0 959.7 371.0 957.9 373.0 956.0 C375.0 954.2 377.0 952.3 379.0 950.5 C381.0 948.7 383.0 946.8 385.0 945.0 C387.0 943.2 389.0 941.4 391.0 939.6 C393.0 937.8 395.0 936.0 397.0 934.3 C399.0 932.5 401.0 930.7 403.0 929.0 C405.0 927.2 407.0 925.4 409.0 923.7 C411.0 922.0 413.0 920.2 415.0 918.5 C417.0 916.8 419.0 915.0 421.0 913.3 C423.0 911.6 425.0 909.9 427.0 908.2 C429.0 906.5 431.0 904.8 433.0 903.1 C435.0 901.5 437.0 899.8 439.0 898.1 C441.0 896.4 443.0 894.8 445.0 893.1 C447.0 891.5 449.0 889.8 451.0 888.2 C453.0 886.6 455.0 884.9 457.0 883.3 C459.0 881.7 461.0 880.1 463.0 878.4 C465.0 876.8 467.0 875.2 469.0 873.6 C471.0 872.0 473.0 870.5 475.0 868.9 C477.0 867.3 479.0 865.7 481.0 864.1 C483.0 862.6 485.0 861.0 487.0 859.5 C489.0 857.9 491.0 856.4 493.0 854.8 C495.0 853.3 497.0 851.7 499.0 850.2 C501.0 848.7 503.0 847.2 505.0 845.6 C507.0 844.1 509.0 842.6 511.0 841.1 C513.0 839.6 515.0 838.1 517.0 836.6 C519.0 835.1 521.0 833.6 523.0 832.2 C525.0 830.7 527.0 829.2 529.0 827.7 C531.0 826.3 533.0 824.8 535.0 823.4 C537.0 821.9 539.0 820.5 541.0 819.0 C543.0 817.6 545.0 816.1 547.0 814.7 C549.0 813.3 551.0 811.8 553.0 810.4 C555.0 809.0 557.0 807.6 559.0 806.2 C561.0 804.7 563.0 803.3 565.0 801.9 C567.0 800.5 569.0 799.1 571.0 797.8 C573.0 796.4 575.0 795.0 577.0 793.6 C579.0 792.2 581.0 790.8 583.0 789.5 C585.0 788.1 587.0 786.7 589.0 785.4 C591.0 784.0 593.0 782.7 595.0 781.3 C597.0 780.0 599.0 778.6 601.0 777.3 C603.0 775.9 605.0 774.6 607.0 773.3 C609.0 771.9 611.0 770.6 613.0 769.3 C615.0 768.0 617.0 766.7 619.0 765.3 C621.0 764.0 623.0 762.7 625.0 761.4 C627.0 760.1 629.0 758.8 631.0 757.5 C633.0 756.2 635.0 754.9 637.0 753.6 C639.0 752.4 641.0 751.1 643.0 749.8 C645.0 748.5 647.0 747.2 649.0 746.0 C651.0 744.7 653.0 743.4 655.0 742.2 C657.0 740.9 659.0 739.7 661.0 738.4 C663.0 737.2 665.0 735.9 667.0 734.7 C669.0 733.4 671.0 732.2 673.0 730.9 C675.0 729.7 677.0 728.5 679.0 727.2 C681.0 726.0 683.0 724.8 685.0 723.5 C687.0 722.3 689.0 721.1 691.0 719.9 C693.0 718.7 695.0 717.4 697.0 716.2 C699.0 715.0 701.0 713.8 703.0 712.6 C705.0 711.4 707.0 710.2 709.0 709.0 C711.0 707.8 713.0 706.6 715.0 705.4 C717.0 704.2 719.0 703.0 721.0 701.9 C723.0 700.7 725.0 699.5 727.0 698.3 C729.0 697.1 731.0 696.0 733.0 694.8 C735.0 693.6 737.0 692.4 739.0 691.3 C741.0 690.1 743.0 688.9 745.0 687.8 C747.0 686.6 749.0 685.5 751.0 684.3 C753.0 683.1 755.0 682.0 757.0 680.8 C759.0 679.7 761.0 678.5 763.0 677.4 C765.0 676.2 767.0 675.1 769.0 674.0 C771.0 672.8 773.0 671.7 775.0 670.6 C777.0 669.4 779.0 668.3 781.0 667.2 C783.0 666.0 785.0 664.9 787.0 663.8 C789.0 662.6 791.0 661.5 793.0 660.4 C795.0 659.3 797.0 658.2 799.0 657.0 C801.0 655.9 803.0 654.8 805.0 653.7 C807.0 652.6 809.0 651.5 811.0 650.4 C813.0 649.2 815.0 648.1 817.0 647.0 C819.0 645.9 821.0 644.8 823.0 643.7 C825.0 642.6 827.0 641.5 829.0 640.4 C831.0 639.3 833.0 638.2 835.0 637.1 C837.0 636.0 839.0 635.0 841.0 633.9 C843.0 632.8 845.0 631.7 847.0 630.6 C849.0 629.5 851.0 628.4 853.0 627.3 C855.0 626.3 857.0 625.2 859.0 624.1 C861.0 623.0 863.0 621.9 865.0 620.9 C867.0 619.8 869.0 618.7 871.0 617.6 C873.0 616.6 875.0 615.5 877.0 614.4 C879.0 613.3 881.9 611.8 883.0 611.2 C884.1 610.6 883.6 610.9 883.7 610.8" stroke="#9400d3" stroke-width="16" fill="none" stroke-linecap="round" stroke-linejoin="round"/>
<path d="M883.7 609.0 L897.8 624.0 L913.4 613.8 L932.5 600.0 L939.5 614.7 L960.3 601.6 L974.2 601.6 L984.6 606.9 L1009.0 591.2 L1036.8 575.6 L1042.0 582.0 L1061.0 572.1 L1095.8 556.5 L1130.6 540.8" stroke="#9400d3" stroke-width="16" fill="none" stroke-linecap="round" stroke-linejoin="round"/>
<circle cx="1133.6" cy="579.8" r="6.2" fill="#9400d3"/><circle cx="1133.6" cy="626.4" r="6.2" fill="#9400d3"/><circle cx="1133.6" cy="666.6" r="6.2" fill="#9400d3"/><circle cx="1133.6" cy="689.4" r="6.2" fill="#9400d3"/><circle cx="1133.6" cy="723.5" r="6.2" fill="#9400d3"/><circle cx="1133.6" cy="745.6" r="6.2" fill="#9400d3"/><circle cx="1133.6" cy="757.5" r="6.2" fill="#9400d3"/><circle cx="1133.6" cy="785.5" r="6.2" fill="#9400d3"/><circle cx="1133.6" cy="805.9" r="6.2" fill="#9400d3"/><circle cx="1133.6" cy="817.2" r="6.2" fill="#9400d3"/><circle cx="1133.6" cy="835.2" r="6.2" fill="#9400d3"/><circle cx="1133.6" cy="860.4" r="6.2" fill="#9400d3"/><circle cx="1133.6" cy="872.3" r="6.2" fill="#9400d3"/><circle cx="1133.6" cy="884.2" r="6.2" fill="#9400d3"/>
<circle cx="1135.0" cy="899.9" r="6.2" fill="#9400d3"/><circle cx="1135.0" cy="909.1" r="6.2" fill="#9400d3"/><circle cx="1135.0" cy="916.9" r="6.2" fill="#9400d3"/><circle cx="1135.0" cy="933.0" r="6.2" fill="#9400d3"/><circle cx="1135.0" cy="951.7" r="6.2" fill="#9400d3"/><circle cx="1135.0" cy="972.8" r="6.2" fill="#9400d3"/>
<polygon points="1135.9,1006.2 1135.2,999.1 1142.7,1002.2 1147.6,1004.7 1148.9,1009.6 1156.3,1012.1 1159.4,1019.5 1167.5,1025.8 1171.2,1035.7 1174.5,1045.6 1176.5,1055.5 1170.3,1066.0 1170.3,1066.0 1135.9,1066.0" fill="#9400d3" stroke="#9400d3" stroke-width="12.4" stroke-linejoin="round"/>
<path d="M279.37 1064.91 L282.60 1062.67 L285.84 1060.43 L289.07 1058.19 L292.31 1055.96 L295.54 1053.73 L298.78 1051.51 L302.01 1049.29 L305.24 1047.08 L308.47 1044.87 L311.71 1042.66 L314.94 1040.46 L318.17 1038.27 L321.40 1036.08 L324.63 1033.89 L327.86 1031.71 L331.08 1029.54 L334.31 1027.37 L337.54 1025.20 L340.53 1022.75 L343.53 1020.31 L346.52 1017.87 L349.52 1015.44 L352.51 1013.01 L355.50 1010.59 L358.50 1008.17 L361.49 1005.75 L364.48 1003.34 L367.48 1000.93 L370.47 998.53 L373.47 996.13 L376.46 993.74 L379.45 991.35 L382.45 988.97 L385.44 986.59 L388.43 984.22 L391.43 981.85 L394.42 979.48 L397.41 977.12 L400.41 974.76 L403.40 972.41 L406.40 970.07 L409.39 967.72 L412.38 965.39 L415.38 963.05 L418.37 960.73 L421.36 958.40 L424.36 956.08 L427.35 953.77 L430.34 951.46 L433.34 949.16 L436.33 946.86 L439.32 944.56 L442.31 942.27 L445.31 939.98 L448.30 937.70 L451.29 935.42 L454.29 933.15 L457.28 930.88 L460.27 928.62 L463.27 926.36 L466.26 924.11 L469.25 921.86 L472.25 919.61 L475.24 917.37 L478.23 915.14 L481.23 912.90 L484.22 910.68 L487.21 908.46 L490.21 906.24 L493.20 904.03 L496.19 901.82 L499.18 899.61 L502.18 897.41 L505.17 895.22 L508.16 893.03 L511.16 890.84 L514.15 888.66 L517.14 886.48 L520.14 884.31 L523.13 882.14 L526.12 879.98 L529.12 877.82 L532.11 875.66 L535.10 873.51 L538.10 871.37 L541.09 869.23 L544.08 867.09 L547.07 864.95 L550.07 862.83 L553.06 860.70 L556.05 858.58 L559.05 856.46 L562.04 854.35 L565.03 852.24 L568.03 850.14 L571.02 848.04 L574.01 845.95 L577.01 843.86 L580.00 841.77 L582.99 839.69 L585.99 837.61 L588.98 835.53 L591.97 833.46 L594.97 831.40 L597.96 829.34 L600.95 827.28 L603.95 825.22 L606.94 823.17 L609.93 821.13 L612.93 819.09 L615.92 817.05 L618.91 815.01 L621.91 812.98 L624.90 810.96 L627.90 808.94 L630.89 806.92 L633.88 804.90 L636.88 802.89 L639.87 800.88 L642.86 798.88 L645.86 796.88 L648.85 794.89 L651.84 792.89 L654.84 790.91 L657.83 788.92 L660.83 786.94 L663.82 784.96 L666.81 782.99 L669.81 781.02 L672.80 779.05 L675.79 777.09 L678.79 775.13 L681.78 773.18 L684.78 771.22 L687.77 769.27 L690.76 767.33 L693.76 765.39 L696.75 763.45 L699.75 761.51 L702.74 759.58 L705.73 757.66 L708.73 755.73 L711.72 753.81 L714.72 751.89 L717.71 749.98 L720.71 748.07 L723.70 746.16 L726.69 744.25 L729.69 742.35 L732.68 740.45 L735.68 738.56 L738.67 736.67 L741.67 734.78 L744.66 732.89 L747.65 731.01 L750.65 729.13 L753.64 727.25 L756.64 725.38 L759.63 723.51 L762.63 721.64 L765.62 719.78 L768.62 717.92 L771.61 716.06 L774.60 714.21 L777.60 712.35 L780.59 710.50 L783.59 708.66 L786.58 706.82 L789.58 704.98 L792.57 703.14 L795.57 701.30 L798.56 699.47 L801.56 697.64 L804.55 695.82 L807.55 694.00 L810.54 692.18 L813.54 690.36 L816.53 688.54 L819.53 686.73 L822.52 684.92 L825.52 683.12 L828.51 681.31 L831.51 679.51 L834.50 677.71 L837.50 675.92 L840.49 674.13 L843.49 672.34 L846.48 670.55 L849.48 668.77 L852.47 666.98 L855.47 665.20 L858.46 663.43 L861.46 661.65 L864.45 659.88 L867.45 658.11 L870.44 656.35 L873.44 654.59 L876.43 652.82 L879.43 651.07 L882.42 649.31 L885.41 647.55 L888.40 645.79 L891.39 644.02 L894.37 642.26 L897.36 640.51 L900.35 638.75 L903.33 637.00 L906.32 635.25 L909.30 633.50 L912.29 631.76 L915.28 630.01 L918.26 628.27 L921.25 626.54 L924.24 624.80 L927.22 623.07 L930.21 621.34 L933.20 619.61 L936.18 617.89 L939.17 616.17 L942.16 614.45 L945.14 612.73 L948.13 611.01 L951.12 609.30 L954.10 607.59 L957.09 605.89 L960.07 604.18 L963.06 602.48 L966.05 600.78 L969.03 599.09 L972.02 597.39 L975.01 595.70 L977.99 594.02 L980.98 592.33 L983.97 590.65 L986.95 588.97 L989.94 587.29 L992.93 585.62 L995.91 583.94 L998.90 582.28 L1001.89 580.61 L1004.87 578.95 L1007.86 577.29 L1010.85 575.63 L1013.83 573.97 L1016.82 572.32 L1019.80 570.67 L1022.79 569.02 L1025.78 567.38 L1028.76 565.74 L1031.75 564.10 L1034.74 562.47 L1037.72 560.84 L1040.71 559.21 L1043.70 557.58 L1046.68 555.96 L1049.67 554.34 L1052.65 552.72 L1055.65 551.12 L1058.64 549.53 L1061.63 547.93 L1064.63 546.35 L1067.62 544.76 L1070.62 543.18 L1073.61 541.60 L1076.60 540.03 L1079.60 538.45 L1082.59 536.89 L1085.59 535.32 L1088.58 533.76 L1091.57 532.20 L1094.57 530.65 L1097.56 529.10 L1100.55 527.55 L1103.55 526.01 L1106.54 524.47 L1109.53 522.93 L1112.53 521.40 L1115.52 519.88 L1118.51 518.35 L1121.51 516.83 L1124.50 515.32 L1127.49 513.80 L1130.48 512.30 L1133.48 510.79 L1136.47 509.29 L1139.46 507.80 L1142.45 506.30 L1145.44 504.82 L1148.44 503.34 L1151.43 501.86 L1154.42 500.38 L1157.41 498.91 L1160.40 497.45 L1163.39 495.99 L1166.39 494.54 L1169.38 493.08 L1172.37 491.64 L1175.36 490.20 L1178.35 488.76 L1181.34 487.33 L1184.33 485.91 L1187.32 484.49 L1190.31 483.07 L1193.30 481.66 L1196.29 480.26 L1199.28 478.86 L1202.27 477.46 L1205.26 476.07 L1208.25 474.69 L1211.24 473.31 L1214.23 471.94 L1217.22 470.58 L1220.20 469.22 L1223.19 467.86 L1226.18 466.52 L1229.17 465.17 L1232.16 463.84 L1235.14 462.51 L1238.13 461.19 L1241.12 459.87 L1244.11 458.56 L1247.09 457.26 L1250.08 455.96 L1253.07 454.67 L1256.05 453.39 L1259.04 452.11 L1262.02 450.84 L1265.01 449.58 L1267.99 448.33 L1270.98 447.08 L1273.97 445.84 L1276.95 444.61 L1279.93 443.38 L1282.92 442.17 L1285.90 440.96 L1288.89 439.76 L1291.87 438.56 L1294.85 437.38 L1297.84 436.20 L1300.82 435.03 L1303.80 433.87 L1306.78 432.72 L1309.77 431.58 L1312.75 430.44 L1315.73 429.32 L1318.71 428.20 L1321.69 427.09 L1324.67 426.00 L1327.65 424.91 L1330.63 423.83 L1333.61 422.76 L1336.59 421.70 L1339.57 420.64 L1342.55 419.60 L1345.52 418.57 L1348.50 417.55 L1351.48 416.54 L1354.46 415.54 L1357.43 414.55 L1360.41 413.57 L1363.39 412.60 L1366.36 411.65 L1369.34 410.70 L1372.31 409.76 L1375.29 408.84 L1378.26 407.93 L1381.23 407.03 L1384.22 406.13 L1385.20 405.84 L1380.80 390.98 L1379.78 391.28 L1376.77 392.18 L1373.74 393.10 L1370.71 394.03 L1367.69 394.97 L1364.66 395.92 L1361.64 396.88 L1358.61 397.86 L1355.59 398.84 L1352.57 399.84 L1349.54 400.84 L1346.52 401.86 L1343.50 402.88 L1340.48 403.92 L1337.45 404.96 L1334.43 406.02 L1331.41 407.09 L1328.39 408.16 L1325.37 409.25 L1322.35 410.34 L1319.33 411.44 L1316.31 412.56 L1313.29 413.68 L1310.27 414.81 L1307.25 415.95 L1304.23 417.10 L1301.22 418.25 L1298.20 419.42 L1295.18 420.59 L1292.16 421.78 L1289.15 422.97 L1286.13 424.17 L1283.11 425.37 L1280.10 426.59 L1277.08 427.81 L1274.07 429.04 L1271.05 430.28 L1268.03 431.52 L1265.02 432.77 L1262.01 434.03 L1258.99 435.30 L1255.98 436.57 L1252.96 437.85 L1249.95 439.14 L1246.93 440.44 L1243.92 441.74 L1240.91 443.05 L1237.89 444.36 L1234.88 445.68 L1231.87 447.01 L1228.86 448.34 L1225.84 449.68 L1222.83 451.03 L1219.82 452.38 L1216.81 453.74 L1213.80 455.10 L1210.78 456.47 L1207.77 457.85 L1204.76 459.23 L1201.75 460.62 L1198.74 462.01 L1195.73 463.41 L1192.72 464.81 L1189.71 466.22 L1186.70 467.64 L1183.69 469.06 L1180.68 470.48 L1177.67 471.91 L1174.66 473.35 L1171.65 474.79 L1168.64 476.23 L1165.63 477.68 L1162.62 479.13 L1159.61 480.59 L1156.61 482.06 L1153.60 483.52 L1150.59 485.00 L1147.58 486.47 L1144.57 487.96 L1141.56 489.44 L1138.56 490.93 L1135.55 492.43 L1132.54 493.93 L1129.53 495.43 L1126.52 496.94 L1123.52 498.45 L1120.51 499.96 L1117.50 501.48 L1114.49 503.01 L1111.49 504.54 L1108.48 506.07 L1105.47 507.60 L1102.47 509.14 L1099.46 510.68 L1096.45 512.23 L1093.45 513.78 L1090.44 515.33 L1087.43 516.89 L1084.43 518.45 L1081.42 520.01 L1078.41 521.58 L1075.41 523.15 L1072.40 524.73 L1069.40 526.31 L1066.39 527.89 L1063.38 529.47 L1060.38 531.06 L1057.37 532.65 L1054.37 534.24 L1051.36 535.84 L1048.35 537.44 L1045.35 539.04 L1042.33 540.63 L1039.32 542.23 L1036.30 543.82 L1033.29 545.42 L1030.28 547.03 L1027.26 548.63 L1024.25 550.24 L1021.24 551.86 L1018.22 553.47 L1015.21 555.09 L1012.20 556.71 L1009.18 558.33 L1006.17 559.96 L1003.15 561.59 L1000.14 563.22 L997.13 564.86 L994.11 566.50 L991.10 568.14 L988.09 569.78 L985.07 571.43 L982.06 573.08 L979.05 574.73 L976.03 576.38 L973.02 578.04 L970.01 579.70 L966.99 581.36 L963.98 583.03 L960.97 584.70 L957.95 586.37 L954.94 588.04 L951.93 589.72 L948.91 591.39 L945.90 593.08 L942.88 594.76 L939.87 596.45 L936.86 598.13 L933.84 599.83 L930.83 601.52 L927.82 603.22 L924.80 604.92 L921.79 606.62 L918.78 608.32 L915.76 610.03 L912.75 611.74 L909.74 613.45 L906.72 615.17 L903.71 616.88 L900.70 618.60 L897.68 620.33 L894.67 622.05 L891.65 623.78 L888.64 625.51 L885.63 627.24 L882.61 628.98 L879.60 630.72 L876.59 632.46 L873.58 634.21 L870.57 635.97 L867.57 637.74 L864.56 639.50 L861.56 641.27 L858.55 643.04 L855.55 644.82 L852.54 646.59 L849.54 648.37 L846.53 650.16 L843.53 651.94 L840.52 653.73 L837.52 655.52 L834.51 657.31 L831.51 659.11 L828.50 660.91 L825.50 662.71 L822.49 664.51 L819.49 666.32 L816.48 668.13 L813.48 669.94 L810.47 671.76 L807.47 673.57 L804.46 675.39 L801.46 677.22 L798.45 679.04 L795.45 680.87 L792.44 682.70 L789.44 684.54 L786.43 686.38 L783.43 688.22 L780.42 690.06 L777.42 691.91 L774.41 693.76 L771.41 695.61 L768.40 697.47 L765.40 699.33 L762.39 701.19 L759.38 703.05 L756.38 704.92 L753.37 706.79 L750.37 708.66 L747.36 710.54 L744.36 712.42 L741.35 714.30 L738.35 716.19 L735.34 718.08 L732.33 719.97 L729.33 721.87 L726.32 723.77 L723.32 725.67 L720.31 727.57 L717.31 729.48 L714.30 731.40 L711.29 733.31 L708.29 735.23 L705.28 737.15 L702.28 739.08 L699.27 741.01 L696.27 742.94 L693.26 744.87 L690.25 746.81 L687.25 748.76 L684.24 750.70 L681.24 752.65 L678.23 754.60 L675.22 756.56 L672.22 758.52 L669.21 760.48 L666.21 762.45 L663.20 764.42 L660.19 766.40 L657.19 768.37 L654.18 770.36 L651.17 772.34 L648.17 774.33 L645.16 776.32 L642.16 778.32 L639.15 780.32 L636.14 782.33 L633.14 784.33 L630.13 786.35 L627.12 788.36 L624.12 790.38 L621.11 792.40 L618.10 794.43 L615.10 796.46 L612.09 798.50 L609.09 800.54 L606.08 802.58 L603.07 804.63 L600.07 806.68 L597.06 808.73 L594.05 810.79 L591.05 812.85 L588.04 814.92 L585.03 816.99 L582.03 819.07 L579.02 821.15 L576.01 823.23 L573.01 825.32 L570.00 827.41 L566.99 829.51 L563.99 831.61 L560.98 833.71 L557.97 835.82 L554.97 837.93 L551.96 840.05 L548.95 842.17 L545.95 844.30 L542.94 846.43 L539.93 848.56 L536.93 850.70 L533.92 852.84 L530.91 854.99 L527.90 857.14 L524.90 859.30 L521.89 861.46 L518.88 863.62 L515.88 865.79 L512.87 867.96 L509.86 870.14 L506.86 872.33 L503.85 874.51 L500.84 876.70 L497.84 878.90 L494.83 881.10 L491.82 883.31 L488.82 885.52 L485.81 887.73 L482.80 889.95 L479.79 892.17 L476.79 894.40 L473.78 896.63 L470.77 898.87 L467.77 901.11 L464.76 903.36 L461.75 905.61 L458.75 907.86 L455.74 910.12 L452.73 912.39 L449.73 914.66 L446.72 916.93 L443.71 919.21 L440.71 921.49 L437.70 923.78 L434.69 926.07 L431.69 928.37 L428.68 930.67 L425.67 932.97 L422.66 935.28 L419.66 937.60 L416.65 939.92 L413.64 942.24 L410.64 944.57 L407.63 946.91 L404.62 949.25 L401.62 951.59 L398.61 953.94 L395.60 956.29 L392.60 958.65 L389.59 961.01 L386.59 963.37 L383.58 965.74 L380.57 968.12 L377.57 970.50 L374.56 972.88 L371.55 975.27 L368.55 977.67 L365.54 980.07 L362.53 982.47 L359.53 984.88 L356.52 987.29 L353.52 989.70 L350.51 992.13 L347.50 994.55 L344.50 996.98 L341.49 999.41 L338.48 1001.85 L335.48 1004.30 L332.47 1006.74 L329.47 1009.20 L326.46 1011.65 L323.69 1014.40 L320.92 1017.15 L318.14 1019.90 L315.37 1022.66 L312.60 1025.42 L309.83 1028.19 L307.06 1030.96 L304.29 1033.73 L301.53 1036.50 L298.76 1039.29 L295.99 1042.07 L293.22 1044.86 L290.46 1047.65 L287.69 1050.45 L284.93 1053.25 L282.16 1056.05 L279.40 1058.86 L276.63 1061.66Z" fill="#ff0000"/><circle cx="278.0" cy="1063.3" r="2.12" fill="#ff0000"/><circle cx="1383.0" cy="398.4" r="7.75" fill="#ff0000"/>
<circle cx="1386.0" cy="477.7" r="6.2" fill="#ff0000"/><circle cx="1386.0" cy="551.4" r="6.2" fill="#ff0000"/><circle cx="1386.0" cy="629.9" r="6.2" fill="#ff0000"/><circle cx="1386.0" cy="694.4" r="6.2" fill="#ff0000"/><circle cx="1386.0" cy="757.7" r="6.2" fill="#ff0000"/><circle cx="1386.0" cy="809.7" r="6.2" fill="#ff0000"/><circle cx="1386.0" cy="849.6" r="6.2" fill="#ff0000"/><circle cx="1386.0" cy="881.3" r="6.2" fill="#ff0000"/><circle cx="1386.0" cy="909.4" r="6.2" fill="#ff0000"/><circle cx="1386.0" cy="937.6" r="6.2" fill="#ff0000"/><circle cx="1386.0" cy="964.5" r="6.2" fill="#ff0000"/><circle cx="1386.0" cy="991.4" r="6.2" fill="#ff0000"/><circle cx="1386.0" cy="1017.3" r="6.2" fill="#ff0000"/>
<polygon points="1388.0,1036.2 1388.5,1033.2 1396.0,1037.2 1406.3,1037.7 1418.0,1039.2 1428.7,1042.1 1439.0,1046.6 1446.5,1055.5 1460.0,1058.2 1473.3,1060.0 1472.3,1066.0 1472.3,1066.0 1388.0,1066.0" fill="#ff0000" stroke="#ff0000" stroke-width="12.4" stroke-linejoin="round"/></g>
<rect x="262.8" y="66.1" width="1254.4" height="1000.4" fill="none" stroke="#000" stroke-width="4"/>
<g font-size="76" fill="#000">
<text x="262.8" y="1161.5" text-anchor="middle" font-size="77.5">0.00</text><text x="513.7" y="1161.5" text-anchor="middle" font-size="77.5">0.04</text><text x="764.6" y="1161.5" text-anchor="middle" font-size="77.5">0.08</text><text x="1015.4" y="1161.5" text-anchor="middle" font-size="77.5">0.12</text><text x="1266.3" y="1161.5" text-anchor="middle" font-size="77.5">0.16</text><text x="1517.2" y="1161.5" text-anchor="middle" font-size="77.5">0.20</text><text x="232.5" y="1092.0" text-anchor="end" font-size="77.5">0</text><text x="232.5" y="841.9" text-anchor="end" font-size="77.5">30</text><text x="232.5" y="591.8" text-anchor="end" font-size="77.5">60</text><text x="232.5" y="341.7" text-anchor="end" font-size="77.5">90</text><text x="232.5" y="91.6" text-anchor="end" font-size="77.5" textLength="111.8" lengthAdjust="spacingAndGlyphs">120</text>
<text x="889" y="1250" text-anchor="middle">Strain <tspan font-style="italic">ε</tspan> [-]</text>
<text transform="translate(94.5 568) rotate(-90)" text-anchor="middle" font-size="75.5">Stress <tspan font-size="84">σ</tspan> [GPa]</text>
</g>
</svg>
</body></html>
